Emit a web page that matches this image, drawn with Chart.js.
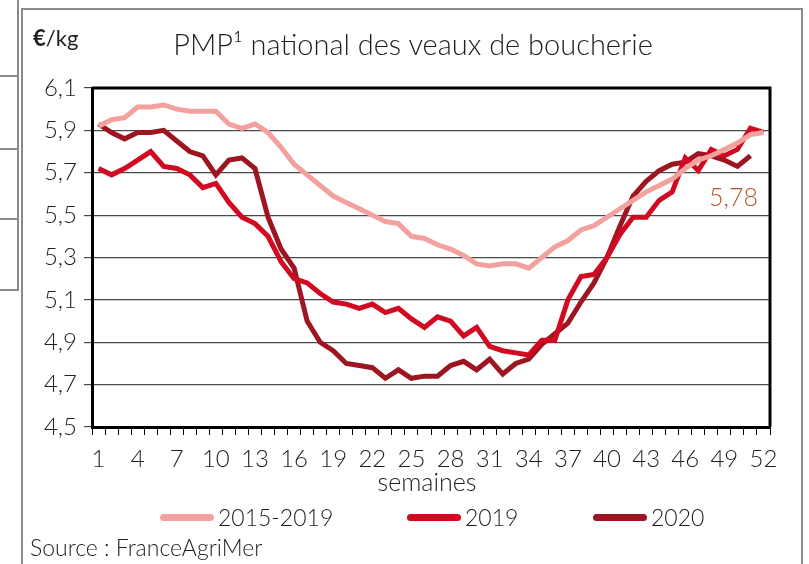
<!DOCTYPE html>
<html lang="fr">
<head>
<meta charset="utf-8">
<title>PMP national des veaux de boucherie</title>
<script src="https://cdn.jsdelivr.net/npm/chart.js@4.4.0/dist/chart.umd.min.js"></script>
<style>
  html, body { margin: 0; padding: 0; background: #fff; }
  body { width: 809px; height: 564px; position: relative; overflow: hidden;
         font-family: Lato, 'Open Sans', sans-serif; color: #1e1e1e; }
  .abs { position: absolute; white-space: nowrap; }
  .frame { position: absolute; left: 21px; top: 8px; width: 778px; height: 570px;
           border-left: 2px solid #8a8a8a; border-top: 2px solid #8a8a8a; border-right: 2px solid #8a8a8a; }
  .side { position: absolute; background: #8a8a8a; }
  #wrap { position: absolute; left: 0; top: 0; width: 809px; height: 564px; }
  #title { left: 0; width: 826px; text-align: center; top: 26px; font-size: 29px; font-weight: 300; }
  #unit { left: 33px; top: 24px; font-size: 22px; }
  #unit b { font-weight: 700; }
  #axisName { left: 0; width: 854px; text-align: center; top: 466px; font-size: 25px; font-weight: 300; }
  #lastVal { left: 709px; top: 181px; font-size: 25px; font-weight: 300; color: #b4552d; }
  #source { left: 30px; top: 533px; font-size: 23px; font-weight: 300; }
  .leg { position: absolute; top: 504px; height: 26px; display: flex; align-items: center;
         font-size: 23px; font-weight: 300; }
  .leg i { display: inline-block; width: 54px; height: 7px; border-radius: 4px; margin-right: 4px; }
</style>
</head>
<body>
<div class="frame"></div>
<div class="side" style="left:17px; top:0; width:2px; height:290px;"></div>
<div class="side" style="left:0; top:75px; width:19px; height:2px;"></div>
<div class="side" style="left:0; top:148px; width:19px; height:2px;"></div>
<div class="side" style="left:0; top:218px; width:19px; height:2px;"></div>
<div class="side" style="left:0; top:289px; width:19px; height:2px;"></div>

<div id="wrap"><canvas id="chart"></canvas></div>

<div class="abs" id="unit"><b>€</b>/kg</div>
<div class="abs" id="title">PMP¹ national des veaux de boucherie</div>
<div class="abs" id="axisName">semaines</div>
<div class="abs" id="lastVal">5,78</div>
<div class="leg" style="left:160px;"><i style="background:#f3a19e"></i>2015-2019</div>
<div class="leg" style="left:407px;"><i style="background:#d10a22"></i>2019</div>
<div class="leg" style="left:593px;"><i style="background:#9c1520"></i>2020</div>
<div class="abs" id="source">Source : FranceAgriMer</div>

<script>
// weeks 1..52
const weeks = Array.from({ length: 52 }, (_, i) => String(i + 1));

// prices in €/kg
const avg2015_2019 = [
  5.92, 5.95, 5.96, 6.01, 6.01, 6.02, 6.00, 5.99, 5.99, 5.99,
  5.93, 5.91, 5.93, 5.89, 5.82, 5.74, 5.69, 5.64, 5.59, 5.56,
  5.53, 5.50, 5.47, 5.46, 5.40, 5.39, 5.36, 5.34, 5.31, 5.27,
  5.26, 5.27, 5.27, 5.25, 5.30, 5.35, 5.38, 5.43, 5.45, 5.49,
  5.53, 5.57, 5.61, 5.64, 5.67, 5.72, 5.76, 5.78, 5.81, 5.84,
  5.88, 5.89
];
const y2019 = [
  5.72, 5.69, 5.72, 5.76, 5.80, 5.73, 5.72, 5.69, 5.63, 5.65,
  5.56, 5.49, 5.46, 5.40, 5.28, 5.20, 5.18, 5.13, 5.09, 5.08,
  5.06, 5.08, 5.04, 5.06, 5.01, 4.97, 5.02, 5.00, 4.93, 4.97,
  4.88, 4.86, 4.85, 4.84, 4.91, 4.91, 5.10, 5.21, 5.22, 5.30,
  5.41, 5.49, 5.49, 5.57, 5.61, 5.77, 5.71, 5.81, 5.78, 5.81,
  5.91, 5.89
];
const y2020 = [
  5.93, 5.89, 5.86, 5.89, 5.89, 5.90, 5.85, 5.80, 5.78, 5.69,
  5.76, 5.77, 5.72, 5.49, 5.34, 5.25, 5.00, 4.90, 4.86, 4.80,
  4.79, 4.78, 4.73, 4.77, 4.73, 4.74, 4.74, 4.79, 4.81, 4.77,
  4.82, 4.75, 4.80, 4.82, 4.89, 4.94, 4.99, 5.09, 5.18, 5.30,
  5.45, 5.59, 5.66, 5.71, 5.74, 5.75, 5.79, 5.78, 5.76, 5.73,
  5.78, null
];

const yMin = 4.5, yMax = 6.1, yStep = 0.2;

// draws the black box around the plot area (top and right sides)
const plotBox = {
  id: 'plotBox',
  afterDatasetsDraw(chart) {
    const { ctx, chartArea: a } = chart;
    ctx.save();
    ctx.strokeStyle = '#000';
    ctx.lineWidth = 3;
    ctx.beginPath();
    ctx.moveTo(a.left, a.top);
    ctx.lineTo(a.right, a.top);
    ctx.lineTo(a.right, a.bottom);
    ctx.stroke();
    ctx.restore();
  }
};

const ctx = document.getElementById('chart');
new Chart(ctx, {
  type: 'line',
  data: {
    labels: weeks,
    datasets: [
      { label: '2015-2019', data: avg2015_2019, borderColor: '#f3a19e' },
      { label: '2019', data: y2019, borderColor: '#d10a22' },
      { label: '2020', data: y2020, borderColor: '#9c1520' }
    ].map(d => Object.assign(d, { borderWidth: 5, pointRadius: 0, tension: 0, fill: false }))
  },
  options: {
    responsive: true,
    maintainAspectRatio: false,
    animation: false,
    layout: { padding: { left: 0, top: 88, right: 39, bottom: 97 } },
    plugins: { legend: { display: false }, tooltip: { enabled: false } },
    scales: {
      x: {
        offset: true,
        afterFit: (s) => { s.height = 40; },
        grid: { offset: true, drawOnChartArea: false, drawTicks: true, tickLength: 8, color: '#000', lineWidth: 1 },
        border: { color: '#000', width: 3 },
        ticks: {
          autoSkip: false, maxRotation: 0, padding: 10, color: '#1e1e1e',
          font: { family: 'Lato', size: 24, weight: '300' },
          callback: (v, i) => (i % 3 === 0 ? weeks[i] : '')
        }
      },
      y: {
        min: yMin, max: yMax,
        afterFit: (s) => { s.width = 92; },
        grid: { color: '#4a4a4a', lineWidth: 1.2, tickLength: 8 },
        border: { color: '#000', width: 3 },
        ticks: {
          stepSize: yStep, padding: 7, color: '#1e1e1e',
          font: { family: 'Lato', size: 24, weight: '300' },
          callback: (v) => v.toFixed(1).replace('.', ',')
        }
      }
    }
  },
  plugins: [plotBox]
});
</script>
</body>
</html>
